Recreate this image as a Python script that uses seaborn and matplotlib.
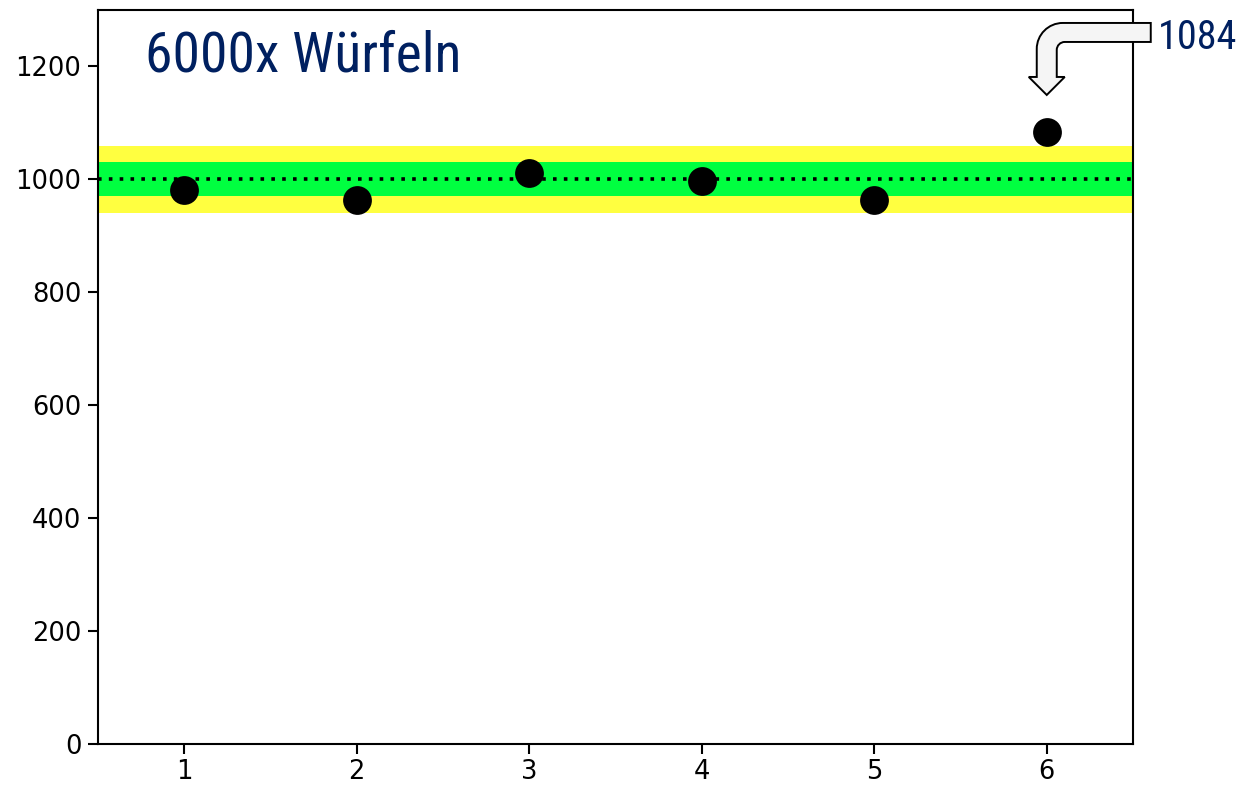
import numpy as np
import pandas as pd
import matplotlib
matplotlib.use('Agg')
import matplotlib.pyplot as plt
import matplotlib.transforms as mtransforms
from matplotlib import font_manager
from matplotlib.path import Path
from matplotlib.patches import PathPatch
import seaborn as sns

# die faces and observed counts out of 6000 throws
faces = [1, 2, 3, 4, 5, 6]
counts = [981, 963, 1011, 997, 964, 1084]
expected = 1000
sigma_band = 30
two_sigma_band = 60

NAVY = '#002060'
YELLOW = '#ffff40'
GREEN = '#00ff40'

sns.set_theme(style='ticks')
plt.rcParams.update({
    'font.family': ['DejaVu Sans'],
    'axes.linewidth': 1.5,
    'xtick.major.width': 1.5,
    'ytick.major.width': 1.5,
    'xtick.major.size': 7,
    'ytick.major.size': 7,
    'xtick.labelsize': 18.5,
    'ytick.labelsize': 18.5,
    'xtick.color': 'black',
    'ytick.color': 'black',
    'axes.edgecolor': 'black',
})

# pick a narrow sans if one is installed, otherwise plain Liberation Sans
installed = {f.name for f in font_manager.fontManager.ttflist}
narrow = [n for n in ['Liberation Sans Narrow', 'Arial Narrow', 'Roboto Condensed',
                      'Open Sans Condensed'] if n in installed]
if narrow:
    label_font, title_size, note_size = narrow[0], 40, 29
else:
    label_font, title_size, note_size = 'Liberation Sans', 36, 26

df = pd.DataFrame({'face': faces, 'count': counts})

fig = plt.figure(figsize=(12.46, 7.85), dpi=100)
ax = fig.add_axes([98 / 1246, 41 / 785, 1035 / 1246, 734 / 785])

ax.axhspan(expected - two_sigma_band, expected + two_sigma_band, color=YELLOW, lw=0, zorder=1)
ax.axhspan(expected - sigma_band, expected + sigma_band, color=GREEN, lw=0, zorder=2)
ax.axhline(expected, color='black', ls=(0, (1, 2.0)), lw=2.6, zorder=3)

sns.scatterplot(data=df, x='face', y='count', s=430, color='black',
                edgecolor='black', linewidth=0, zorder=4, ax=ax, legend=False)

ax.set_xlim(0.5, 6.5)
ax.set_ylim(0, 1300)
ax.set_xticks(faces)
ax.set_yticks(range(0, 1201, 200))
ax.set_xlabel('')
ax.set_ylabel('')
ax.tick_params(axis='y', pad=5)
ax.tick_params(axis='x', pad=4)

ax.text(0.045, 0.974, '6000x Würfeln', transform=ax.transAxes,
        fontsize=title_size, color=NAVY, va='top', ha='left',
        family=[label_font, 'DejaVu Sans'])

# bent block arrow pointing at the outlier, drawn in pixel offsets from the point
k = 0.5523
ro, ri = 26, 8
verts = [
    (0, 37), (18, 55), (10, 55), (10, 90 - ri),
    (10, 90 - ri + k * ri), (10 + ri - k * ri, 90), (10 + ri, 90),
    (104, 90), (104, 109), (-10 + ro, 109),
    (-10 + ro - k * ro, 109), (-10, 109 - ro + k * ro), (-10, 109 - ro),
    (-10, 55), (-18, 55), (0, 37),
]
codes = [Path.MOVETO, Path.LINETO, Path.LINETO, Path.LINETO,
         Path.CURVE4, Path.CURVE4, Path.CURVE4,
         Path.LINETO, Path.LINETO, Path.LINETO,
         Path.CURVE4, Path.CURVE4, Path.CURVE4,
         Path.LINETO, Path.LINETO, Path.CLOSEPOLY]
px, py = ax.transData.transform((faces[-1], counts[-1]))
arrow_tr = mtransforms.Affine2D().translate(px, py)
ax.add_patch(PathPatch(Path(verts, codes), transform=arrow_tr, facecolor='#f5f5f5',
                       edgecolor='black', lw=1.4, clip_on=False, zorder=6))
ax.text(px + 111, py + 94, f'{counts[-1]}', transform=mtransforms.IdentityTransform(),
        fontsize=note_size, color=NAVY, va='center', ha='left',
        family=[label_font, 'DejaVu Sans'])

fig.savefig('out.png', dpi=100)
